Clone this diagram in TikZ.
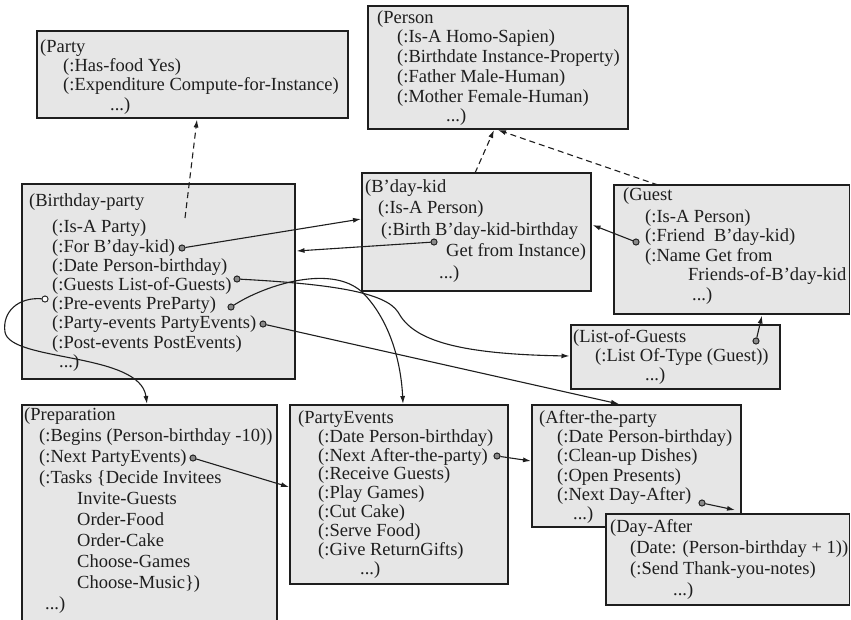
\documentclass[tikz,border=0pt]{standalone}
\usepackage{fontspec}
\setmainfont{Liberation Serif}
\usetikzlibrary{arrows.meta,calc}
\definecolor{boxfill}{HTML}{E6E6E6}
\definecolor{ink}{HTML}{1E1E1E}
\definecolor{dotfill}{HTML}{8A8A8A}
\newcommand{\fl}{\rule{0pt}{14pt}}
\begin{document}
\begin{tikzpicture}[x=1pt,y=-1pt,
 frame/.style={draw=ink, fill=boxfill, line width=1.4pt, anchor=north west, inner sep=0pt, outer sep=0pt},
 txt/.style={anchor=north west, inner sep=0pt, align=left, text=ink, font=\fontsize{18.5}{19.3}\selectfont},
 dot/.style={circle, draw=ink, fill=dotfill, line width=0.8pt, minimum size=6pt, inner sep=0pt},
 odot/.style={dot, fill=white},
 link/.style={draw=ink, line width=1.1pt, -{Latex[length=8pt,width=5pt]}},
 isa/.style={link, dash pattern=on 6pt off 4pt}]
\useasboundingbox (0,0) rectangle (851,619);
\fill[white] (0,0) rectangle (851,619);

% frames
\node[frame, minimum width=311pt, minimum height=87pt] (party) at (37,31) {};
\node[frame, minimum width=260pt, minimum height=123pt] (person) at (368,6) {};
\node[frame, minimum width=273pt, minimum height=195pt] (bp) at (22,184) {};
\node[frame, minimum width=229pt, minimum height=118pt] (kid) at (362,173) {};
\node[frame, minimum width=235.5pt, minimum height=129pt] (guest) at (614,185) {};
\node[frame, minimum width=209pt, minimum height=64pt] (log) at (571,325) {};
\node[frame, minimum width=255pt, minimum height=217pt] (prep) at (22,405) {};
\node[frame, minimum width=218pt, minimum height=179pt] (pe) at (290,405) {};
\node[frame, minimum width=209pt, minimum height=122pt] (atp) at (532,405) {};
\node[frame, minimum width=243.5pt, minimum height=91pt] (da) at (606,514) {};

% texts
\node[txt] (partyT) at (40,38) {\fl(Party\\
\hspace*{23pt}(:Has-food Yes)\\
\hspace*{23pt}(:Expenditure Compute-for-Instance)\\
\hspace*{70pt}...)};

\node[txt, font=\fontsize{18.5}{19.7}\selectfont] (personT) at (377,9) {\fl(Person\\
\hspace*{20pt}(:Is-A Homo-Sapien)\\
\hspace*{20pt}(:Birthdate Instance-Property)\\
\hspace*{20pt}(:Father Male-Human)\\
\hspace*{20pt}(:Mother Female-Human)\\
\hspace*{69pt}...)};

\node[txt, font=\fontsize{18.5}{19.2}\selectfont] (bpT) at (29,192) {\fl(Birthday-party\\[7.5pt]
\hspace*{23pt}(:Is-A Party)\\
\hspace*{23pt}(:For B’day-kid)\\
\hspace*{23pt}(:Date Person-birthday)\\
\hspace*{23pt}(:Guests List-of-Guests)\\
\hspace*{23pt}(:Pre-events PreParty)\\
\hspace*{23pt}(:Party-events PartyEvents)\\
\hspace*{23pt}(:Post-events PostEvents)\\
\hspace*{30pt}...)};

\node[txt, font=\fontsize{18.5}{21.5}\selectfont] (kidT) at (365,178) {\fl(B’day-kid\\
\hspace*{13pt}(:Is-A Person)\\
\hspace*{16pt}(:Birth B’day-kid-birthday\\
\hspace*{81pt}Get from Instance)\\
\hspace*{74pt}...)};

\node[txt, font=\fontsize{18.5}{19.5}\selectfont] (guestT) at (623,186) {\fl(Guest\\[2.5pt]
\hspace*{22pt}(:Is-A Person)\\
\hspace*{22pt}(:Friend\ \ B’day-kid)\\
\hspace*{22pt}(:Name Get from\\
\hspace*{65pt}Friends-of-B’day-kid\\
\hspace*{69pt}...)};

\node[txt, font=\fontsize{18.5}{19}\selectfont] (logT) at (573,328) {\fl(List-of-Guests\\
\hspace*{22pt}(:List Of-Type (Guest))\\
\hspace*{72pt}...)};

\node[txt, font=\fontsize{18.5}{21}\selectfont] (prepT) at (24,406) {\fl(Preparation\\
\hspace*{15pt}(:Begins (Person-birthday -10))\\
\hspace*{15pt}(:Next PartyEvents)\\
\hspace*{15pt}(:Tasks \{Decide Invitees\\
\hspace*{53pt}Invite-Guests\\
\hspace*{53pt}Order-Food\\
\hspace*{53pt}Order-Cake\\
\hspace*{53pt}Choose-Games\\
\hspace*{53pt}Choose-Music\})\\
\hspace*{21pt}...)};

\node[txt, font=\fontsize{18.5}{18.9}\selectfont] (peT) at (298,409) {\fl(PartyEvents\\
\hspace*{20pt}(:Date Person-birthday)\\
\hspace*{20pt}(:Next After-the-party)\\
\hspace*{20pt}(:Receive Guests)\\
\hspace*{20pt}(:Play Games)\\
\hspace*{20pt}(:Cut Cake)\\
\hspace*{20pt}(:Serve Food)\\
\hspace*{20pt}(:Give ReturnGifts)\\
\hspace*{62pt}...)};

\node[txt] (atpT) at (539,409) {\fl(After-the-party\\
\hspace*{18pt}(:Date Person-birthday)\\
\hspace*{18pt}(:Clean-up Dishes)\\
\hspace*{18pt}(:Open Presents)\\
\hspace*{18pt}(:Next Day-After)\\
\hspace*{34pt}...)};

\node[frame, minimum width=243.5pt, minimum height=91pt] (da) at (606,514) {};
\node[txt, font=\fontsize{18.5}{21}\selectfont] (daT) at (610,518) {\fl(Day-After\\
\hspace*{20pt}(Date: (Person-birthday + 1))\\
\hspace*{20pt}(:Send Thank-you-notes)\\
\hspace*{63pt}...)};

% dots
\node[dot] (dFor) at (182,248) {};
\node[dot] (dBirth) at (434,242) {};
\node[dot] (dFriend) at (636,242) {};
\node[dot] (dList) at (756,341) {};
\node[dot] (dGuests) at (237,279) {};
\node[dot] (dPre) at (231,307) {};
\node[odot] (dPreL) at (45,299) {};
\node[dot] (dPartyEv) at (263,324) {};
\node[dot] (dNextP) at (193,458) {};
\node[dot] (dNextPE) at (497,456) {};
\node[dot] (dNextDA) at (702,503) {};

% connector ends
\coordinate (bpTop) at (185,218);
\coordinate (partyB) at (197,119.5);
\coordinate (kidTop) at (475,173);
\coordinate (guestTop) at (658,185);
\coordinate (personB1) at (494,130);
\coordinate (personB2) at (498,130);
\coordinate (kidL) at (361,219);
\coordinate (bpR) at (296.5,251);
\coordinate (kidR) at (592.5,225);
\coordinate (guestB) at (762,315.5);
\coordinate (logL) at (569.5,356);
\coordinate (peTop) at (403,404);
\coordinate (prepTop) at (147,404);
\coordinate (atpTop) at (619,404);
\coordinate (peL) at (289,487);
\coordinate (atpL) at (531,461);
\coordinate (daTop) at (735,510);

% is-a links
\draw[isa] (bpTop) -- (partyB);
\draw[isa] (kidTop) -- (personB1);
\draw[isa] (guestTop) -- (personB2);

% slot links
\draw[link] (dFor) -- (kidL);
\draw[link] (dBirth) -- (bpR);
\draw[link] (dFriend) -- (kidR);
\draw[link] (dList) -- (guestB);
\draw[link] (dGuests) .. controls (330,284) and (385,292) .. (398,312)
  .. controls (412,338) and (450,354) .. (logL);
\draw[link] (dPre) .. controls (265,285) and (335,262) .. (365,295)
  .. controls (390,322) and (401,362) .. (peTop);
\draw[link] (dPreL) .. controls (18,297) and (2,312) .. (5,332)
  .. controls (10,362) and (140,352) .. (prepTop);
\draw[link] (dPartyEv) -- (atpTop);
\draw[link] (dNextP) -- (peL);
\draw[link] (dNextPE) -- (atpL);
\draw[link] (dNextDA) -- (daTop);

% redraw dots on top
\node[dot] at (dFor) {};
\node[dot] at (dBirth) {};
\node[dot] at (dFriend) {};
\node[dot] at (dList) {};
\node[dot] at (dGuests) {};
\node[dot] at (dPre) {};
\node[odot] at (dPreL) {};
\node[dot] at (dPartyEv) {};
\node[dot] at (dNextP) {};
\node[dot] at (dNextPE) {};
\node[dot] at (dNextDA) {};
\end{tikzpicture}
\end{document}
